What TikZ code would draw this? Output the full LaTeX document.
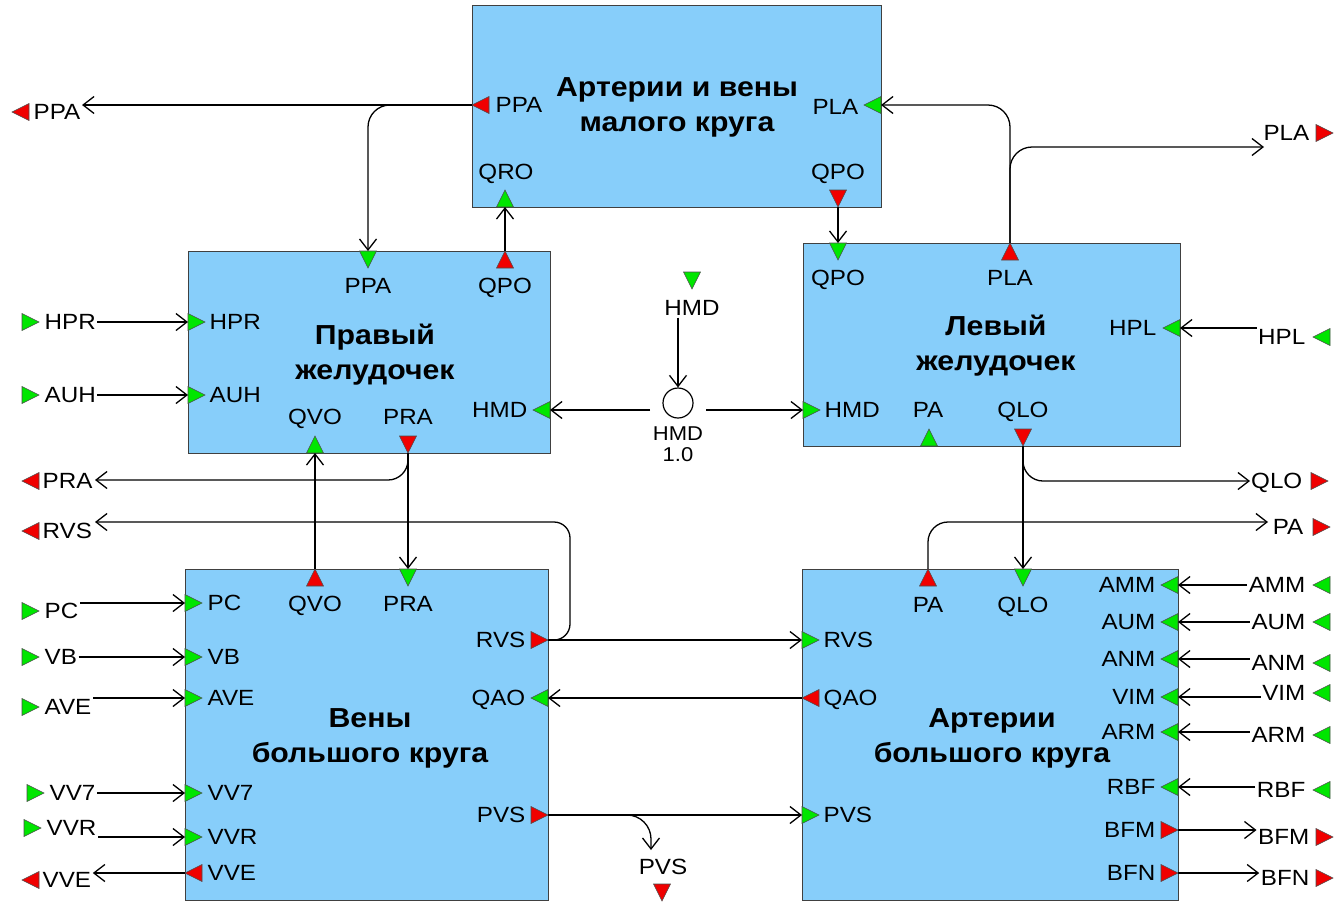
\documentclass[tikz,border=0pt]{standalone}
\usepackage{fontspec}
\setmainfont[FakeStretch=1.1]{Liberation Sans}
\usetikzlibrary{arrows.meta}

\definecolor{blockblue}{RGB}{135,206,250}
\definecolor{portgreen}{RGB}{0,230,0}
\definecolor{portred}{RGB}{240,0,0}

\tikzset{
  blockbox/.style={draw=black!75, line width=1.4pt, fill=blockblue, anchor=north west, inner sep=0pt},
  title/.style={font=\fontsize{27.5}{35}\selectfont\bfseries, align=center},
  lbl/.style={font=\fontsize{22}{24}\selectfont, inner sep=1.5pt, text height=15.8pt, text depth=0pt},
  wire/.style={line width=1.3pt, -{Straight Barb[length=11pt,width=17pt,line width=1.3pt]}},
  porttri/.style={draw=black!70, line width=0.6pt},
}

% green triangle, base at #2, pointing to #1 degrees
\newcommand{\inport}[2]{%
  \draw[porttri, fill=portgreen, shift={(#2)}, rotate=#1] (17,0) -- (0,8.5) -- (0,-8.5) -- cycle;}
% red triangle, apex at #2, pointing to #1 degrees
\newcommand{\outport}[2]{%
  \draw[porttri, fill=portred, shift={(#2)}, rotate=#1] (0,0) -- (-17,8.5) -- (-17,-8.5) -- cycle;}

\begin{document}
\begin{tikzpicture}[x=1pt, y=-1pt]
\useasboundingbox (0,0) rectangle (1334,903);

% ===== Blocks =====
\node[blockbox, minimum width=409pt, minimum height=202pt] (mc) at (472,5) {};
\node[blockbox, minimum width=362pt, minimum height=202pt] (rv) at (188,251) {};
\node[blockbox, minimum width=377pt, minimum height=203pt] (lv) at (803,243) {};
\node[blockbox, minimum width=363pt, minimum height=331pt] (vb) at (185,569) {};
\node[blockbox, minimum width=376pt, minimum height=331pt] (ab) at (802,569) {};

\node[title] (mc-t) at (677,107) {Артерии и вены\\малого круга};
\node[title] (rv-t) at (375,355) {Правый\\желудочек};
\node[title] (lv-t) at (996,346) {Левый\\желудочек};
\node[title] (vb-t) at (370,738) {Вены\\большого круга};
\node[title] (ab-t) at (992,738) {Артерии\\большого круга};

% ===== Small circle: ports =====
\coordinate (mc-ppa) at (472,105);
\coordinate (mc-pla) at (881,105);
\coordinate (mc-qro) at (505,207);
\coordinate (mc-qpo) at (838,207);
\outport{180}{mc-ppa}
\inport{180}{mc-pla}
\inport{90}{mc-qro}
\outport{270}{mc-qpo}
\node[lbl, anchor=west] (mc-ppa-l) at (494,105) {PPA};
\node[lbl, anchor=east] (mc-pla-l) at (860,107) {PLA};
\node[lbl] (mc-qro-l) at (506,172) {QRO};
\node[lbl] (mc-qpo-l) at (838,172) {QPO};

% ===== Right ventricle: ports =====
\coordinate (rv-ppa) at (368,251);
\coordinate (rv-qpo) at (505,251);
\coordinate (rv-HPR) at (188,322);
\coordinate (rv-AUH) at (188,395);
\coordinate (rv-hmd) at (550,410);
\coordinate (rv-qvo) at (315,453);
\coordinate (rv-pra) at (408,453);
\inport{270}{rv-ppa}
\outport{90}{rv-qpo}
\inport{180}{rv-hmd}
\inport{90}{rv-qvo}
\outport{270}{rv-pra}
\node[lbl] (rv-ppa-l) at (368,286) {PPA};
\node[lbl] (rv-qpo-l) at (505,286) {QPO};
\node[lbl, anchor=east] (rv-hmd-l) at (529,410) {HMD};
\node[lbl] (rv-qvo-l) at (315,417) {QVO};
\node[lbl] (rv-pra-l) at (408,417) {PRA};
\foreach \nm/\py in {HPR/322, AUH/395} {
  \inport{0}{rv-\nm}
  \node[lbl, anchor=west] (rv-\nm-l) at (208,\py) {\nm};
  \inport{0}{22,\py}
  \node[lbl, anchor=west] (in-\nm) at (43,\py) {\nm};
  \draw[wire] (in-\nm.east |- rv-\nm) -- (rv-\nm);
}

% ===== Left ventricle: ports =====
\coordinate (lv-qpo) at (838,243);
\coordinate (lv-pla) at (1010,243);
\coordinate (lv-hpl) at (1180,328);
\coordinate (lv-hmd) at (803,410);
\coordinate (lv-pa) at (929,446);
\coordinate (lv-qlo) at (1023,446);
\inport{270}{lv-qpo}
\outport{90}{lv-pla}
\inport{180}{lv-hpl}
\inport{0}{lv-hmd}
\inport{90}{lv-pa}
\outport{270}{lv-qlo}
\node[lbl] (lv-qpo-l) at (838,278) {QPO};
\node[lbl] (lv-pla-l) at (1010,278) {PLA};
\node[lbl, anchor=east] (lv-hpl-l) at (1158,328) {HPL};
\node[lbl, anchor=west] (lv-hmd-l) at (823,410) {HMD};
\node[lbl] (lv-pa-l) at (928,410) {PA};
\node[lbl] (lv-qlo-l) at (1023,410) {QLO};

% ===== Systemic veins: ports =====
\coordinate (vb-qvo) at (315,569);
\coordinate (vb-pra) at (408,569);
\coordinate (vb-rvs) at (548,640);
\coordinate (vb-qao) at (548,698);
\coordinate (vb-pvs) at (548,815);
\coordinate (vb-vve) at (185,873);
\outport{90}{vb-qvo}
\inport{270}{vb-pra}
\outport{0}{vb-rvs}
\inport{180}{vb-qao}
\outport{0}{vb-pvs}
\outport{180}{vb-vve}
\node[lbl] (vb-qvo-l) at (315,604) {QVO};
\node[lbl] (vb-pra-l) at (408,604) {PRA};
\node[lbl, anchor=east] (vb-rvs-l) at (527,640) {RVS};
\node[lbl, anchor=east] (vb-qao-l) at (527,698) {QAO};
\node[lbl, anchor=east] (vb-pvs-l) at (527,815) {PVS};
\node[lbl, anchor=west] (vb-vve-l) at (206,873) {VVE};
\foreach \nm/\py/\ly/\tx in {PC/603/611/22, VB/657/657/22, AVE/698/707/22, VV7/793/793/27, VVR/837/828/24} {
  \coordinate (vb-\nm) at (185,\py);
  \inport{0}{vb-\nm}
  \node[lbl, anchor=west] (vb-\nm-l) at (206,\py) {\nm};
  \inport{0}{\tx,\ly}
  \node[lbl, anchor=west] (in-\nm) at (\tx+21,\ly) {\nm};
  \draw[wire] (in-\nm.east |- vb-\nm) -- (vb-\nm);
}

% ===== Systemic arteries: ports =====
\coordinate (ab-pa) at (928,569);
\coordinate (ab-qlo) at (1023,569);
\coordinate (ab-rvs) at (802,640);
\coordinate (ab-qao) at (802,698);
\coordinate (ab-pvs) at (802,815);
\outport{90}{ab-pa}
\inport{270}{ab-qlo}
\inport{0}{ab-rvs}
\outport{180}{ab-qao}
\inport{0}{ab-pvs}
\node[lbl] (ab-pa-l) at (928,605) {PA};
\node[lbl] (ab-qlo-l) at (1023,605) {QLO};
\node[lbl, anchor=west] (ab-rvs-l) at (822,640) {RVS};
\node[lbl, anchor=west] (ab-qao-l) at (822,698) {QAO};
\node[lbl, anchor=west] (ab-pvs-l) at (822,815) {PVS};
\foreach \nm/\py/\ly in {AMM/585/585, AUM/622/622, ANM/659/663, VIM/697/693, ARM/732/735, RBF/787/790} {
  \coordinate (ab-\nm) at (1178,\py);
  \inport{180}{ab-\nm}
  \node[lbl, anchor=east] (ab-\nm-l) at (1157,\py) {\nm};
  \node[lbl, anchor=east] (in-\nm) at (1307,\ly) {\nm};
  \inport{180}{1330,\ly}
  \draw[wire] (in-\nm.west |- ab-\nm) -- (ab-\nm);
}
\foreach \nm/\py/\ly in {BFM/830/837, BFN/873/878} {
  \coordinate (ab-\nm) at (1178,\py);
  \outport{0}{ab-\nm}
  \node[lbl, anchor=east] (ab-\nm-l) at (1157,\py) {\nm};
  \node[lbl, anchor=east] (out-\nm) at (1311,\ly) {\nm};
  \outport{0}{1333,\ly}
  \draw[wire] (ab-\nm) -- (out-\nm.west |- ab-\nm);
}

% ===== Outer signals =====
\outport{180}{12,112}
\node[lbl, anchor=west] (out-ppa) at (32,112) {PPA};
\outport{180}{22,481}
\node[lbl, anchor=west] (out-pra) at (41,481) {PRA};
\outport{180}{22,531}
\node[lbl, anchor=west] (out-rvs) at (41,531) {RVS};
\outport{180}{22,880}
\node[lbl, anchor=west] (out-vve) at (41,880) {VVE};
\node[lbl, anchor=east] (out-pla) at (1311,133) {PLA};
\outport{0}{1333,133}
\node[lbl, anchor=east] (out-qlo) at (1304,481) {QLO};
\outport{0}{1328,481}
\node[lbl, anchor=east] (out-pa) at (1305,527) {PA};
\outport{0}{1330,527}
\node[lbl, anchor=east] (in-hpl) at (1307,337) {HPL};
\inport{180}{1330,337}

\coordinate (pla-end) at (1264,147);
\coordinate (qlo-end) at (1250,481);
\coordinate (pa-end) at (1268,522);
\coordinate (pra-end) at (95,480);
\coordinate (rvs-bend) at (570,522);
\coordinate (rvs-end) at (95,522);
\coordinate (pvs-end) at (651,850);

% ===== HMD source =====
\inport{270}{692,272}
\node[lbl] (hmd-src) at (692,308) {HMD};
\node[draw, circle, line width=1.2pt, minimum size=30pt, inner sep=0pt] (hmd-c) at (678,403) {};
\node[lbl, inner sep=0pt, font=\fontsize{20}{22}\selectfont, text height=14.3pt] (hmd-c-l) at (678,433) {HMD};
\node[lbl, inner sep=0pt, font=\fontsize{20}{22}\selectfont, text height=14.3pt] (hmd-c-v) at (678,454) {1.0};
\coordinate (hmd-w) at (650,410);
\coordinate (hmd-e) at (706,410);

% ===== Wires =====
\draw[wire] (mc-ppa) -- (out-ppa.east |- mc-ppa);
\draw[wire, rounded corners=22] (mc-ppa) -| (rv-ppa);
\draw[wire] (rv-qpo) -- (mc-qro);
\draw[wire] (mc-qpo) -- (lv-qpo);
\draw[wire, rounded corners=22] (lv-pla) |- (mc-pla);
\draw[wire, rounded corners=22] (lv-pla) |- (pla-end);
\draw[wire] (hmd-src.south -| hmd-c) -- (hmd-c.north);
\draw[wire] (hmd-w) -- (rv-hmd);
\draw[wire] (hmd-e) -- (lv-hmd);
\draw[wire] (in-hpl.west |- lv-hpl) -- (lv-hpl);
\draw[wire] (rv-pra) -- (vb-pra);
\draw[wire, rounded corners=20] (rv-pra) |- (pra-end);
\draw[wire] (vb-qvo) -- (rv-qvo);
\draw[wire] (lv-qlo) -- (ab-qlo);
\draw[wire, rounded corners=20] (lv-qlo) |- (qlo-end);
\draw[wire, rounded corners=20] (ab-pa) |- (pa-end);
\draw[wire] (vb-rvs) -- (ab-rvs);
\draw[wire, rounded corners=16] (vb-rvs) -| (rvs-bend) -- (rvs-end);
\draw[wire] (ab-qao) -- (vb-qao);
\draw[wire] (vb-pvs) -- (ab-pvs);
\draw[wire, rounded corners=24] (vb-pvs) -| (pvs-end);
\node[lbl] (out-pvs) at (663,867) {PVS};
\outport{270}{662,901}
\draw[wire] (vb-vve) -- (out-vve.east |- vb-vve);

\end{tikzpicture}
\end{document}
